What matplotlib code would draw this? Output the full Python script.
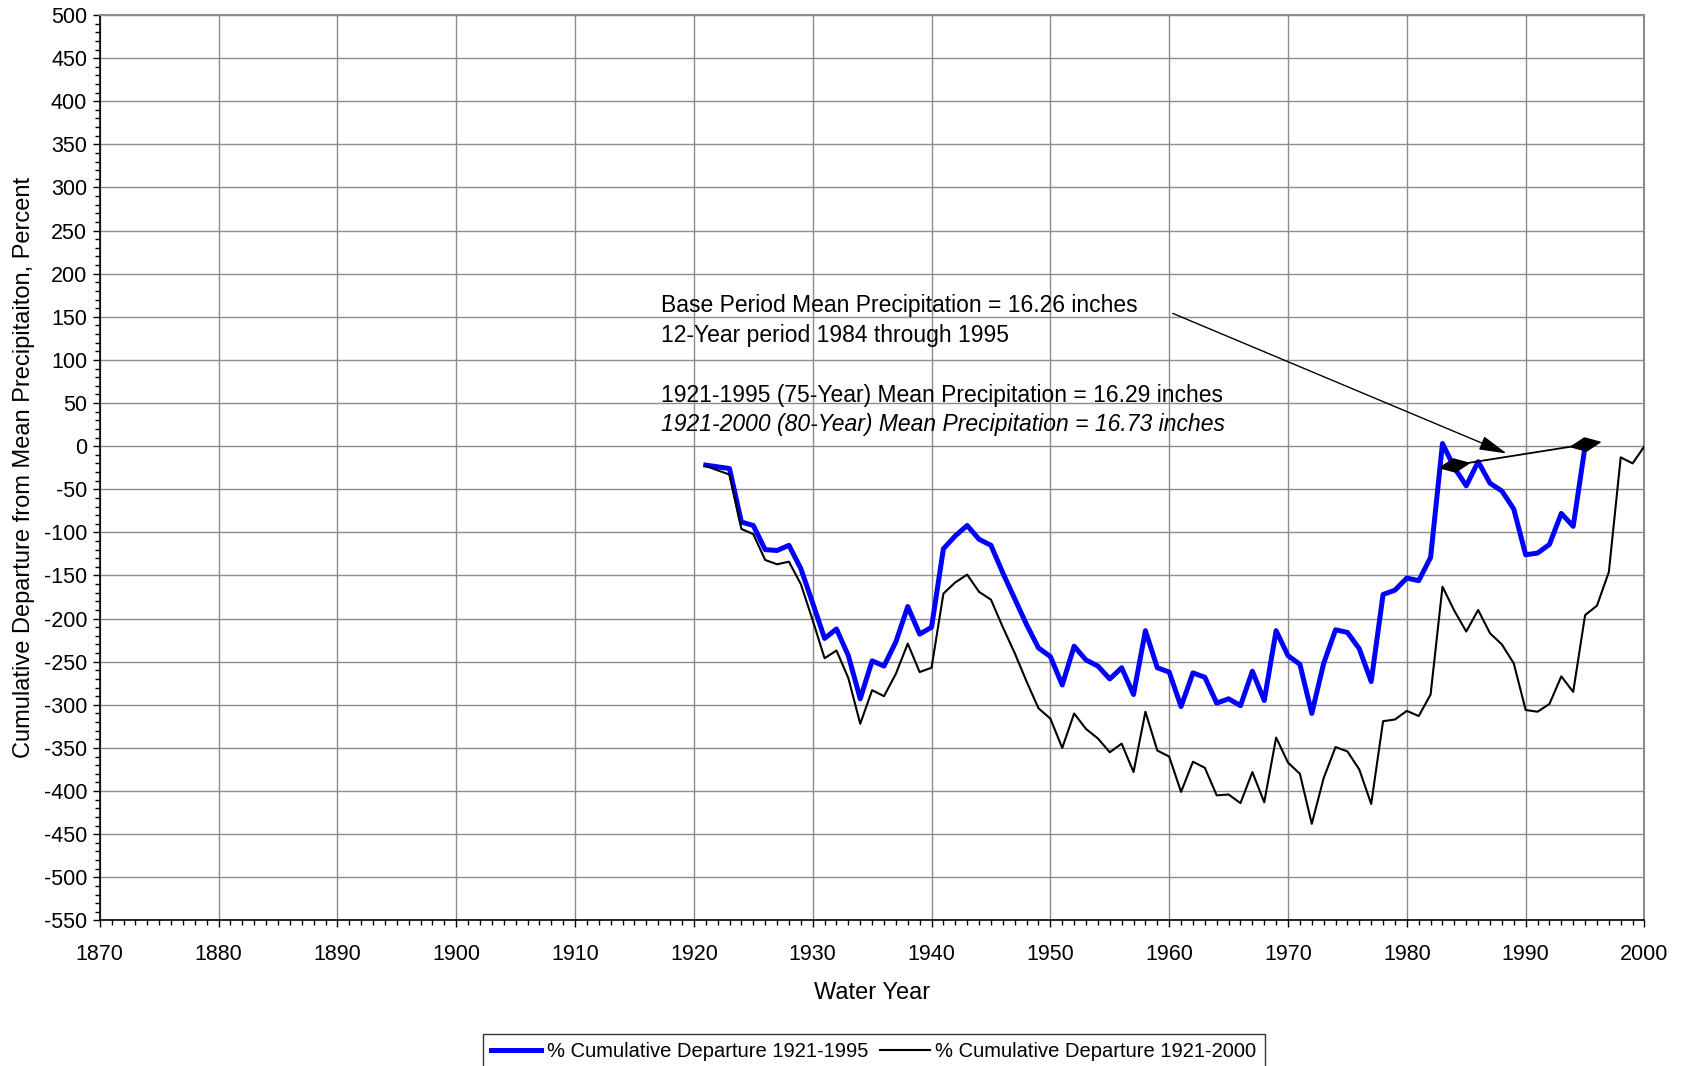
import numpy as np
import matplotlib
matplotlib.use("Agg")
import matplotlib.pyplot as plt
from matplotlib.ticker import MultipleLocator
from matplotlib.path import Path

plt.rcParams['font.family'] = ['Liberation Sans', 'DejaVu Sans']
plt.rcParams['axes.unicode_minus'] = False

years_1995 = list(range(1921, 1996))
dep_1995 = [-22, -24, -26, -88, -92, -120, -121, -115, -142, -182,
            -223, -212, -243, -293, -249, -255, -227, -186, -218, -210,
            -119, -104, -92, -108, -115, -147, -177, -207, -234, -244,
            -277, -232, -248, -255, -270, -257, -288, -214, -257, -262,
            -302, -263, -268, -298, -293, -301, -261, -295, -214, -243,
            -253, -310, -252, -213, -216, -235, -273, -172, -167, -153,
            -156, -129, 3, -25, -46, -18, -43, -52, -73, -126,
            -124, -114, -78, -93, 0]

years_2000 = list(range(1921, 2001))
dep_2000 = [-23, -28, -33, -96, -102, -132, -137, -134, -160, -202,
            -246, -237, -269, -322, -283, -290, -264, -229, -262, -257,
            -171, -158, -149, -169, -178, -210, -240, -273, -304, -316,
            -350, -310, -328, -339, -355, -345, -378, -308, -353, -360,
            -401, -366, -373, -405, -404, -414, -378, -413, -338, -367,
            -380, -438, -385, -349, -354, -375, -415, -319, -317, -307,
            -313, -288, -163, -191, -215, -190, -217, -230, -252, -306,
            -308, -299, -267, -285, -196, -185, -146, -13, -20, 0]

base_x = [1984, 1995]
base_y = [-22, 2]
arrow_from = (1960.3, 154)
arrow_to = (1988.4, -8.5)

label_1995 = "% Cumulative Departure 1921-1995"
label_2000 = "% Cumulative Departure 1921-2000"
notes = ["Base Period Mean Precipitation = 16.26 inches",
         "12-Year period 1984 through 1995",
         "1921-1995 (75-Year) Mean Precipitation = 16.29 inches",
         "1921-2000 (80-Year) Mean Precipitation = 16.73 inches"]
note_y = [163, 128, 59, 25]

fig = plt.figure(figsize=(16.82, 10.66), dpi=100)
ax = fig.add_axes([0.0593, 0.1366, 0.9184, 0.8493])

ax.set_xlim(1870, 2000)
ax.set_ylim(-550, 500)
ax.xaxis.set_major_locator(MultipleLocator(10))
ax.xaxis.set_minor_locator(MultipleLocator(1))
ax.yaxis.set_major_locator(MultipleLocator(50))
ax.yaxis.set_minor_locator(MultipleLocator(10))
ax.grid(True, which='major', color='#8c8c8c', linewidth=1.0)
ax.set_axisbelow(True)
ax.tick_params(which='major', direction='out', length=5, width=1, labelsize=15.5)
ax.tick_params(axis='x', which='major', pad=12)
ax.tick_params(axis='y', which='major', pad=4)
ax.tick_params(which='minor', direction='out', length=3.5, width=1)
for s in ['top', 'right']:
    ax.spines[s].set_color('#8c8c8c')
    ax.spines[s].set_linewidth(1.5)
for s in ['left', 'bottom']:
    ax.spines[s].set_color('black')
    ax.spines[s].set_linewidth(1.2)

l1, = ax.plot(years_1995, dep_1995, color='#0000ff', linewidth=3.6, label=label_1995, zorder=3)
l2, = ax.plot(years_2000, dep_2000, color='black', linewidth=1.5, label=label_2000, zorder=3)

# base period line with diamond ends
pix_ang = np.deg2rad(9)
verts = np.array([(-1, 0), (0, 0.45), (1, 0), (0, -0.45), (-1, 0)])
rot = np.array([[np.cos(pix_ang), -np.sin(pix_ang)], [np.sin(pix_ang), np.cos(pix_ang)]])
rv = verts @ rot.T
diamond = Path(rv, [Path.MOVETO, Path.LINETO, Path.LINETO, Path.LINETO, Path.CLOSEPOLY])
ax.plot(base_x, base_y, color='black', linewidth=1.3, marker=diamond, markersize=21,
        markerfacecolor='black', markeredgecolor='black', zorder=4)

ax.annotate('', xy=arrow_to, xytext=arrow_from,
            arrowprops=dict(arrowstyle='-|>,head_length=0.85,head_width=0.22',
                            color='black', lw=1.0, mutation_scale=20,
                            shrinkA=0, shrinkB=0), zorder=4)

for i, (t, y) in enumerate(zip(notes, note_y)):
    ax.text(1917.2, y, t, fontsize=16.5, ha='left', va='center',
            style='italic' if i == 3 else 'normal', zorder=5)

ax.set_xlabel("Water Year", fontsize=17, labelpad=12)
ax.set_ylabel("Cumulative Departure from Mean Precipitaiton, Percent", fontsize=17, labelpad=6)

leg = fig.legend(handles=[l1, l2], loc='lower center', bbox_to_anchor=(0.5195, -0.012),
                 ncol=2, fontsize=14.5, frameon=True, fancybox=False, edgecolor='black',
                 handlelength=2.5, handletextpad=0.25, columnspacing=0.6, borderpad=0.4)
leg.get_frame().set_linewidth(1.0)

fig.savefig("out.png", dpi=100)
